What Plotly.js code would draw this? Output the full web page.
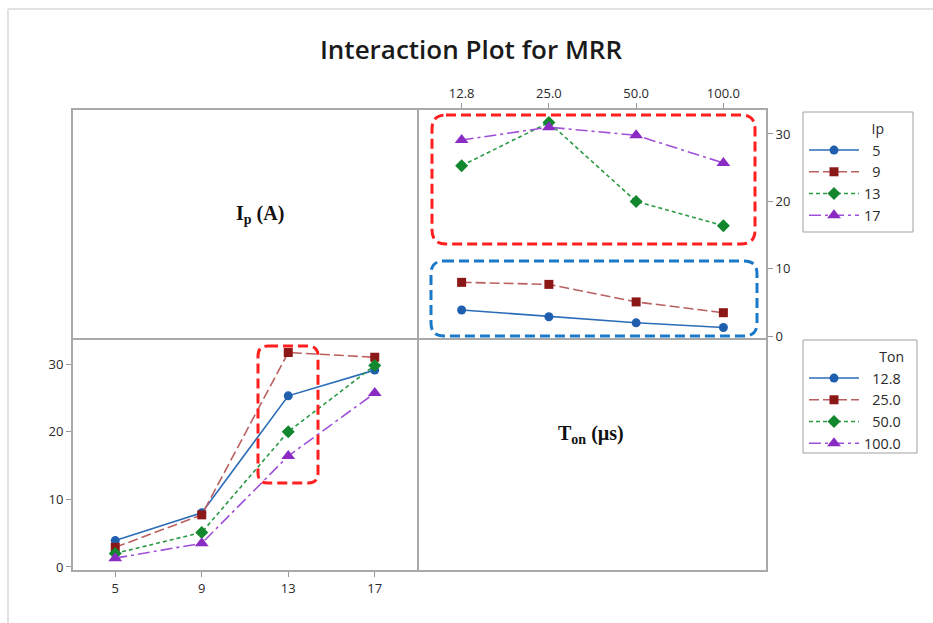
<!DOCTYPE html>
<html>
<head>
<meta charset="utf-8">
<script src="https://cdn.plot.ly/plotly-3.0.1.min.js"></script>
<style>html,body{margin:0;padding:0;background:#fff;} #chart{width:933px;height:623px;}</style>
</head>
<body>
<div id="chart"></div>
<script>
// ---- data (MRR means) ----
const tonLevels = ['12.8', '25.0', '50.0', '100.0'];
const ipLevels = ['5', '9', '13', '17'];
const mrrIp5  = [3.9, 2.9, 2.0, 1.3];
const mrrIp9  = [8.0, 7.7, 5.1, 3.5];
const mrrIp13 = [25.3, 31.7, 20.0, 16.4];
const mrrIp17 = [29.1, 31.0, 29.8, 25.7];
const yTicks = [0, 10, 20, 30];

// ---- styles ----
const colors  = ['#1f5fae', '#8c1717', '#12872e', '#8a2bc4'];
const lineCol = ['#2a6cb8', '#bb6060', '#2a9a45', '#a050d8'];
const symbols = ['circle', 'square', 'diamond', 'triangle-up'];
const msizes  = [9, 9, 10, 12];
const dashes  = ['solid', '10px,4px', '4px,3px', '12px,4px,3px,4px'];

const W = 933, H = 623;
const px = x => x / W;
const py = y => 1 - y / H;
// right-align legend labels with figure spaces (same width as a digit)
const padTo = (s, n) => '\u2007'.repeat(Math.max(0, n - s.replace('.', '').length)) + s;

const byIp = [mrrIp5, mrrIp9, mrrIp13, mrrIp17];
const traces = [];
// top-right: x = Ton, lines = Ip
byIp.forEach((vals, i) => {
  traces.push({
    x: tonLevels, y: vals, xaxis: 'x2', yaxis: 'y2', type: 'scatter', mode: 'lines+markers',
    name: padTo(ipLevels[i], 2), legend: 'legend',
    line: {color: lineCol[i], width: 1.6, dash: dashes[i]},
    marker: {color: colors[i], symbol: symbols[i], size: msizes[i]}
  });
});
// bottom-left: x = Ip, lines = Ton
tonLevels.forEach((t, j) => {
  traces.push({
    x: ipLevels, y: byIp.map(r => r[j]), xaxis: 'x', yaxis: 'y', type: 'scatter', mode: 'lines+markers',
    name: padTo(t, 4), legend: 'legend2',
    line: {color: lineCol[j], width: 1.6, dash: dashes[j]},
    marker: {color: colors[j], symbol: symbols[j], size: msizes[j]}
  });
});

function roundRect(x0, y0, x1, y1, r) {
  const P = (x, y) => px(x).toFixed(5) + ',' + py(y).toFixed(5);
  return 'M' + P(x0 + r, y0) + ' L' + P(x1 - r, y0) + ' Q' + P(x1, y0) + ' ' + P(x1, y0 + r) +
    ' L' + P(x1, y1 - r) + ' Q' + P(x1, y1) + ' ' + P(x1 - r, y1) +
    ' L' + P(x0 + r, y1) + ' Q' + P(x0, y1) + ' ' + P(x0, y1 - r) +
    ' L' + P(x0, y0 + r) + ' Q' + P(x0, y0) + ' ' + P(x0 + r, y0) + ' Z';
}

const frameCol = '#a9a9a9';
const shapes = [
  // outer light frame (cropped at right/bottom)
  {type: 'line', xref: 'paper', yref: 'paper', x0: px(8), y0: py(9), x1: px(8), y1: py(623), line: {color: '#e2e2e2', width: 2}},
  {type: 'line', xref: 'paper', yref: 'paper', x0: px(8), y0: py(9), x1: px(933), y1: py(9), line: {color: '#e2e2e2', width: 2}},
  // matrix frame
  {type: 'rect', xref: 'paper', yref: 'paper', x0: px(72), y0: py(109), x1: px(767), y1: py(571), line: {color: frameCol, width: 2}},
  {type: 'line', xref: 'paper', yref: 'paper', x0: px(418), y0: py(109), x1: px(418), y1: py(571), line: {color: frameCol, width: 2}},
  {type: 'line', xref: 'paper', yref: 'paper', x0: px(72), y0: py(339), x1: px(767), y1: py(339), line: {color: frameCol, width: 2}},
  // legend boxes
  {type: 'rect', xref: 'paper', yref: 'paper', x0: px(803), y0: py(112), x1: px(913), y1: py(232), line: {color: '#a0a0a0', width: 1}},
  {type: 'rect', xref: 'paper', yref: 'paper', x0: px(803), y0: py(340), x1: px(917), y1: py(453), line: {color: '#a0a0a0', width: 1}},
  // highlight boxes
  {type: 'path', xref: 'paper', yref: 'paper', path: roundRect(432, 115, 755, 244, 14), line: {color: '#ff1f1f', width: 3, dash: '10px,5px'}},
  {type: 'path', xref: 'paper', yref: 'paper', path: roundRect(431, 261, 757, 336, 13), line: {color: '#1a78c8', width: 3, dash: '10px,5px'}},
  {type: 'path', xref: 'paper', yref: 'paper', path: roundRect(258, 346, 318, 483, 10), line: {color: '#ff1f1f', width: 3, dash: '10px,5px'}}
];

const tickFont = {family: 'Open Sans, sans-serif', size: 13, color: '#2a2a2a'};
const legFont = {family: 'Open Sans, sans-serif', size: 14.4, color: '#2a2a2a'};
const legTitleFont = {family: 'Open Sans, sans-serif', size: 14, color: '#2a2a2a'};
const axCommon = {
  showgrid: false, zeroline: false, showline: false, ticks: 'outside', ticklen: 5, tickwidth: 1,
  tickcolor: '#999', tickfont: tickFont, fixedrange: true, automargin: false
};

const layout = {
  width: W, height: H,
  margin: {l: 0, r: 0, t: 0, b: 0},
  paper_bgcolor: '#fff', plot_bgcolor: 'rgba(0,0,0,0)',
  title: {text: 'Interaction Plot for MRR', x: px(471), xanchor: 'center', y: py(50), yanchor: 'middle',
          xref: 'paper', yref: 'paper', font: {family: 'Open Sans, sans-serif', size: 26, weight: 600, color: '#1a1a1a'}},
  xaxis: Object.assign({}, axCommon, {type: 'category', domain: [px(72), px(418)], anchor: 'y', range: [-0.5, 3.5]}),
  yaxis: Object.assign({}, axCommon, {domain: [py(571), py(339)], anchor: 'x', range: [-0.6, 33.7], tickvals: yTicks}),
  xaxis2: Object.assign({}, axCommon, {type: 'category', domain: [px(418), px(767)], anchor: 'y2', side: 'top', range: [-0.5, 3.5]}),
  yaxis2: Object.assign({}, axCommon, {domain: [py(339), py(109)], anchor: 'x2', side: 'right', range: [-0.4, 33.7], tickvals: yTicks}),
  shapes: shapes,
  annotations: [
    {text: '<b>I<sub>p</sub> (A)</b>', xref: 'paper', yref: 'paper', x: px(234), y: py(214), showarrow: false,
     font: {family: 'Liberation Serif, serif', size: 20, color: '#111'}},
    {text: '<b>T<sub>on</sub> (µs)</b>', xref: 'paper', yref: 'paper', x: px(591), y: py(449), showarrow: false,
     font: {family: 'Liberation Serif, serif', size: 20, color: '#111'}}
  ],
  legend: {x: px(804), y: py(116), xanchor: 'left', yanchor: 'top', borderwidth: 0,
           bgcolor: 'rgba(0,0,0,0)', itemwidth: 50, font: legFont, tracegroupgap: 0,
           title: {text: 'Ip', side: 'top right', font: legTitleFont}},
  legend2: {x: px(804), y: py(344), xanchor: 'left', yanchor: 'top', borderwidth: 0,
            bgcolor: 'rgba(0,0,0,0)', itemwidth: 50, font: legFont, tracegroupgap: 0,
            title: {text: 'Ton', side: 'top right', font: legTitleFont}},
  showlegend: true
};

Plotly.newPlot('chart', traces, layout, {displayModeBar: false, staticPlot: true});
</script>
</body>
</html>
